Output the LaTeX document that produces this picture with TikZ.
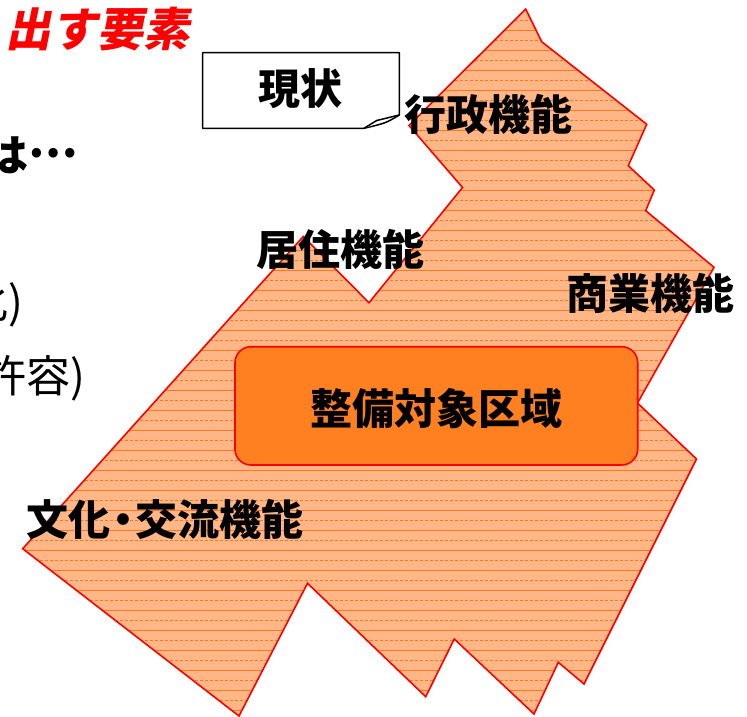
\documentclass[tikz,border=0pt]{standalone}
\usepackage{fontspec}
\newfontfamily\jp{Noto Sans CJK JP}
\newfontfamily\jpsl{Noto Sans CJK JP}[FakeSlant=0.2]
\definecolor{polyfill}{RGB}{255,183,135}
\definecolor{hatch}{RGB}{255,120,30}
\definecolor{zonefill}{RGB}{255,128,32}
\begin{document}
\begin{tikzpicture}[x=1pt,y=-1pt,
  lbl/.style={font={\jp\bfseries\fontsize{42}{42}\selectfont}, inner sep=0pt, text=black},
  side/.style={font={\jp\fontsize{44}{44}\selectfont}, inner sep=0pt, text=black},
  sideb/.style={font={\jp\bfseries\fontsize{44}{44}\selectfont}, inner sep=0pt, text=black},
  heading/.style={font={\jpsl\bfseries\fontsize{46}{46}\selectfont}, inner sep=0pt, text=red},
  outline/.style={draw=red, line width=1.6pt, line join=miter},
  hline/.style={draw=hatch, line width=0.9pt},
  hdash/.style={draw=hatch, line width=0.9pt, dash pattern=on 3pt off 2pt},
  zonebox/.style={draw=red, line width=1.6pt, fill=zonefill, rounded corners=16pt},
  memo/.style={draw=black, line width=1.5pt, fill=white, line join=round}]
\useasboundingbox (0,0) rectangle (747,716);

% polygon vertices
\coordinate (p1) at (525.7,9);
\coordinate (p2) at (541.7,41.7);
\coordinate (p3) at (646.7,124.3);
\coordinate (p4) at (628.3,165.7);
\coordinate (p5) at (654.3,190);
\coordinate (p6) at (645.7,210.7);
\coordinate (p7) at (714,267.3);
\coordinate (p8) at (637.5,403);
\coordinate (p9) at (696.5,459);
\coordinate (p10) at (584,684);
\coordinate (p11) at (558.3,662.3);
\coordinate (p12) at (534,714);
\coordinate (p13) at (454.3,639);
\coordinate (p14) at (425.7,696.7);
\coordinate (p15) at (307.5,583.3);
\coordinate (p16) at (239,716);
\coordinate (p17) at (22.7,548.7);
\coordinate (p18) at (303.3,236.5);
\coordinate (p19) at (369,302.7);
\coordinate (p20) at (462.5,187.5);
\coordinate (p21) at (409,125.5);

\begin{scope}
  \clip (p1) -- (p2) -- (p3) -- (p4) -- (p5) -- (p6) -- (p7) -- (p8) -- (p9) -- (p10) -- (p11) -- (p12) -- (p13) -- (p14) -- (p15) -- (p16) -- (p17) -- (p18) -- (p19) -- (p20) -- (p21) -- cycle;
  \fill[polyfill] (0,0) rectangle (747,716);
  \foreach \y in {10,30,...,710} { \draw[hline] (0,\y) -- (747,\y); }
  \foreach \y in {20,40,...,700} { \draw[hdash] (0,\y) -- (747,\y); }
\end{scope}
\draw[outline] (p1) -- (p2) -- (p3) -- (p4) -- (p5) -- (p6) -- (p7) -- (p8) -- (p9) -- (p10) -- (p11) -- (p12) -- (p13) -- (p14) -- (p15) -- (p16) -- (p17) -- (p18) -- (p19) -- (p20) -- (p21) -- cycle;

% target zone
\draw[zonebox] (235,346.7) rectangle (637.7,465);
\node[lbl] (zone) at (436,409) {整備対象区域};

% function labels
\node[lbl] (gyosei) at (488,114) {行政機能};
\node[lbl] (kyoju) at (340,249) {居住機能};
\node[lbl] (shogyo) at (650,293) {商業機能};
\node[lbl] (bunka) at (165,519) {文化\kern-9pt・\kern-9pt交流機能};

% memo box with curled corner
\draw[memo] (202.7,52.7) -- (399.3,52.7) -- (399.3,115)
  .. controls (386,123) .. (364,128.3) -- (202.7,128.3) -- cycle;
\draw[memo] (364,128.3) -- (376.7,120.5) -- (399.3,115);
\node[lbl] (genjo) at (300,89) {現状};

% partial texts at the left edge
\node[heading, anchor=east] (youso) at (190,29) {出す要素};
\node[sideb, anchor=east] (ha) at (78,155) {は\raisebox{0.3em}{…}};
\node[side, anchor=east] (ka) at (24,305) {化)};
\node[side, anchor=east] (kyoyo) at (86,378) {許容)};
\end{tikzpicture}
\end{document}
